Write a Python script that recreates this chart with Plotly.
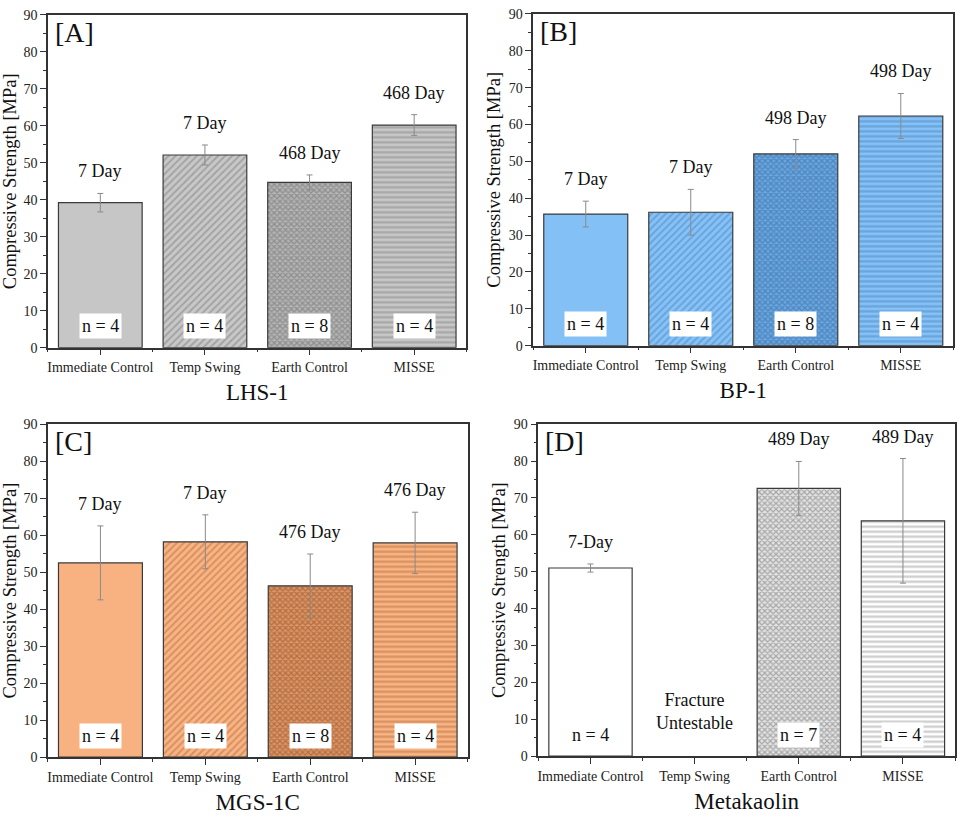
import plotly.graph_objects as go

categories = ["Immediate Control", "Temp Swing", "Earth Control", "MISSE"]
panel_letters = ["[A]", "[B]", "[C]", "[D]"]
materials = ["LHS-1", "BP-1", "MGS-1C", "Metakaolin"]

lhs_vals = [39.2, 52.1, 44.7, 60.2]
lhs_err = [2.5, 2.7, 2.0, 2.8]
lhs_days = ["7 Day", "7 Day", "468 Day", "468 Day"]
lhs_n = ["n = 4", "n = 4", "n = 8", "n = 4"]

bp_vals = [35.7, 36.2, 52.0, 62.3]
bp_err = [3.5, 6.2, 3.9, 6.1]
bp_days = ["7 Day", "7 Day", "498 Day", "498 Day"]
bp_n = ["n = 4", "n = 4", "n = 8", "n = 4"]

mgs_vals = [52.5, 58.2, 46.3, 57.9]
mgs_err = [10.0, 7.3, 8.6, 8.3]
mgs_days = ["7 Day", "7 Day", "476 Day", "476 Day"]
mgs_n = ["n = 4", "n = 4", "n = 8", "n = 4"]

mk_vals = [51.0, None, 72.6, 63.8]
mk_err = [1.1, None, 7.3, 16.9]
mk_days = ["7-Day", None, "489 Day", "489 Day"]
mk_n = ["n = 4", None, "n = 7", "n = 4"]
mk_note = "Fracture<br>Untestable"

yticks = [0, 10, 20, 30, 40, 50, 60, 70, 80, 90]

panels = [
    dict(vals=lhs_vals, err=lhs_err, days=lhs_days, n=lhs_n,
         fills=["#c6c6c6", "#c8c8c8", "#b4b4b4", "#c8c8c8"],
         fg=["#c6c6c6", "#7e7e7e", "#6a6a6a", "#868686"],
         xd=[0.049, 0.4854], yd=[0.5779, 0.9903]),
    dict(vals=bp_vals, err=bp_err, days=bp_days, n=bp_n,
         fills=["#82c0f6", "#86c2f6", "#6aa6e0", "#86c2f6"],
         fg=["#82c0f6", "#4a86c2", "#34689c", "#4a86c2"],
         xd=[0.555, 0.993], yd=[0.5803, 0.9915]),
    dict(vals=mgs_vals, err=mgs_err, days=mgs_days, n=mgs_n,
         fills=["#f8b282", "#f8b484", "#dc9464", "#f8b484"],
         fg=["#f8b282", "#b86c3c", "#8a4c24", "#b86c3c"],
         xd=[0.049, 0.4865], yd=[0.0706, 0.483]),
    dict(vals=mk_vals, err=mk_err, days=mk_days, n=mk_n,
         fills=["#ffffff", "#ffffff", "#e4e4e4", "#ffffff"],
         fg=["#ffffff", "#8a8a8a", "#6e6e6e", "#9a9a9a"],
         xd=[0.5604, 0.9948], yd=[0.0718, 0.483]),
]
shapes = ["", "/", "x", "-"]
psize = [8, 5, 4, 5]
psol = [0.3, 0.4, 0.55, 0.45]

SERIF = "Liberation Serif, Times New Roman, serif"
fig = go.Figure()
annotations = []
layout = {}
xpos = [0, 1, 2, 3]

for i, p in enumerate(panels):
    k = "" if i == 0 else str(i + 1)
    xa, ya = "x" + k, "y" + k
    for j in range(4):
        if p["vals"][j] is None:
            continue
        fig.add_trace(go.Bar(
            x=[xpos[j]], y=[p["vals"][j]], width=0.8,
            xaxis=xa, yaxis=ya, showlegend=False,
            marker=dict(color=p["fills"][j],
                        line=dict(color="#3a3a3a", width=1.2),
                        pattern=dict(shape=shapes[j], fgcolor=p["fg"][j],
                                     bgcolor=p["fills"][j], size=psize[j],
                                     solidity=psol[j], fillmode="overlay")),
            error_y=dict(type="data", array=[p["err"][j]], color="#8a8a8a",
                         thickness=1, width=3),
        ))
        top = p["vals"][j] + p["err"][j]
        annotations.append(dict(x=xpos[j], y=top, xref=xa, yref=ya, text=p["days"][j],
                                showarrow=False, yanchor="bottom", yshift=10,
                                font=dict(family=SERIF, size=18, color="#111")))
        annotations.append(dict(x=xpos[j], y=5.8, xref=xa, yref=ya, text=p["n"][j],
                                showarrow=False, bgcolor="#ffffff", borderpad=2,
                                font=dict(family=SERIF, size=18, color="#111")))
    annotations.append(dict(x=0.012, y=1.0, xref=xa + " domain", yref=ya + " domain",
                            text=panel_letters[i], showarrow=False, xanchor="left",
                            yanchor="top", font=dict(family=SERIF, size=28, color="#111")))
    layout["xaxis" + k] = dict(
        domain=p["xd"], anchor=ya, range=[-0.5, 3.5], tickvals=xpos, ticktext=categories,
        ticks="outside", ticklen=6, tickwidth=1.2, tickcolor="#333",
        minor=dict(tickvals=[-0.5, 0.5, 1.5, 2.5, 3.5], ticks="outside", ticklen=3,
                   tickcolor="#333"),
        showline=True, linecolor="#333", linewidth=1.5, mirror=True,
        showgrid=False, zeroline=False,
        tickfont=dict(family=SERIF, size=14, color="#222"),
        title=dict(text=materials[i], standoff=10,
                   font=dict(family=SERIF, size=23, color="#111")))
    layout["yaxis" + k] = dict(
        domain=p["yd"], anchor=xa, range=[0, 90], tickvals=yticks,
        ticks="outside", ticklen=6, tickwidth=1.2, tickcolor="#333",
        minor=dict(dtick=5, ticks="outside", ticklen=3, tickcolor="#333"),
        showline=True, linecolor="#333", linewidth=1.5, mirror=True,
        showgrid=False, zeroline=False,
        tickfont=dict(family=SERIF, size=14, color="#222"),
        title=dict(text="Compressive Strength [MPa]", standoff=3,
                   font=dict(family=SERIF, size=18.5, color="#111")))

annotations.append(dict(x=1, y=12, xref="x4", yref="y4", text=mk_note, showarrow=False,
                        font=dict(family=SERIF, size=18, color="#111")))

fig.update_layout(width=960, height=822, margin=dict(l=0, r=0, t=0, b=0),
                  paper_bgcolor="white", plot_bgcolor="white",
                  annotations=annotations, bargap=0.2, **layout)
fig.write_html("out.html")
